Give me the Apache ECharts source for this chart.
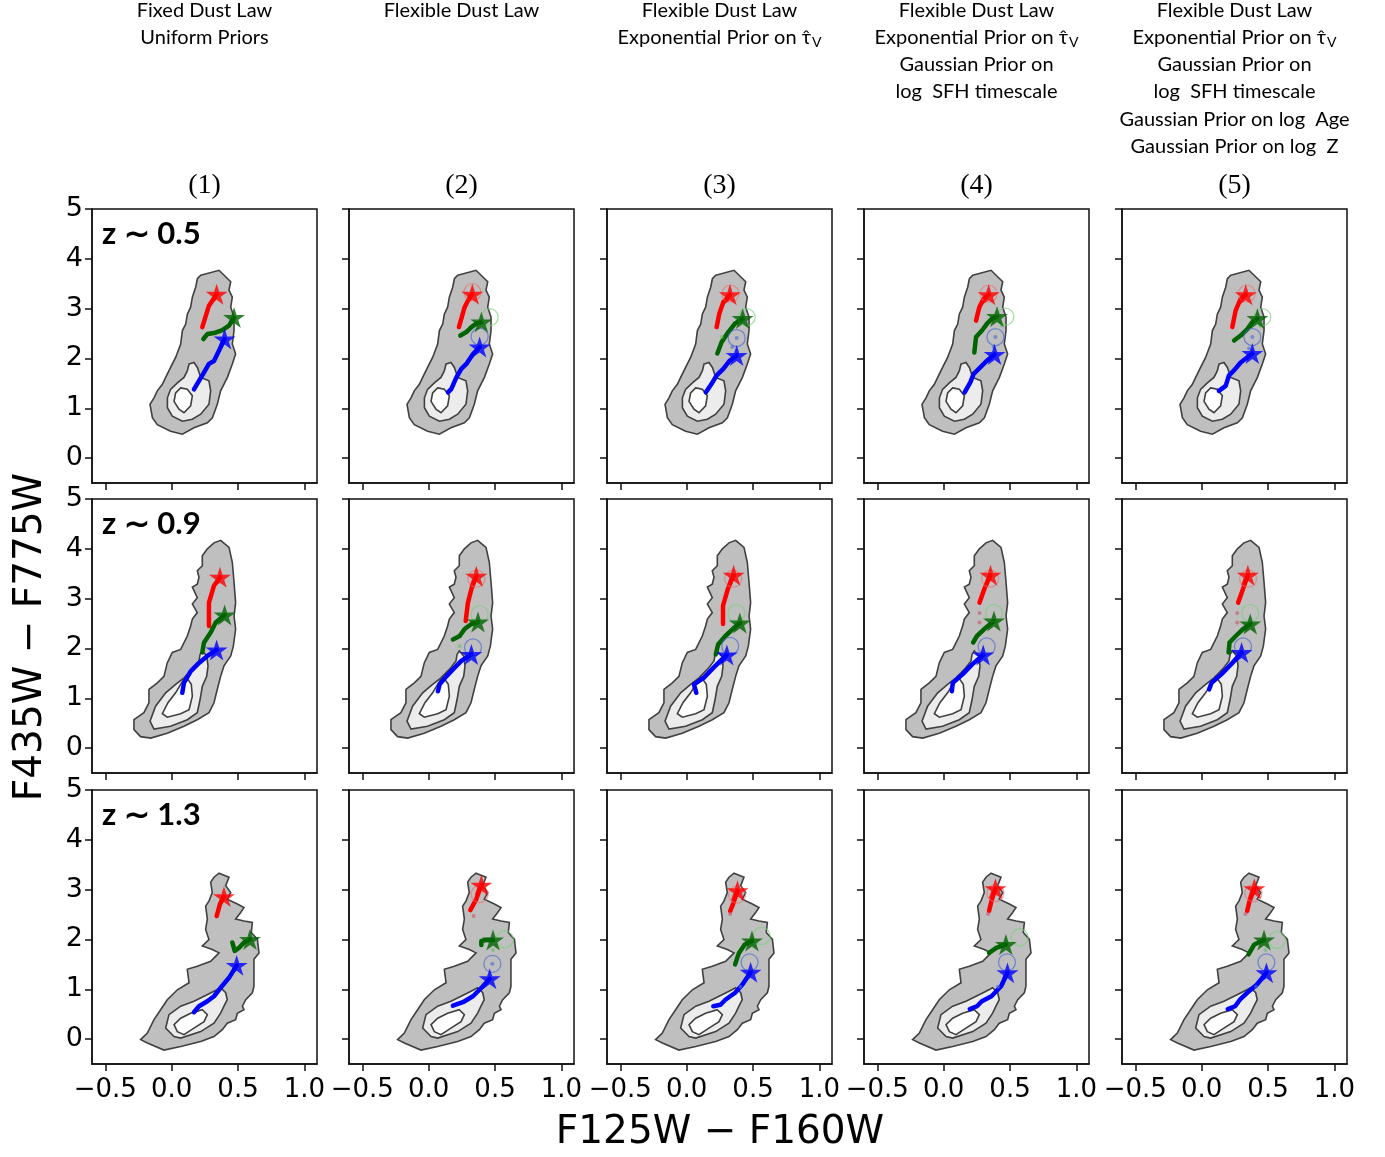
<!DOCTYPE html>
<html><head><meta charset="utf-8">
<script src="https://cdn.jsdelivr.net/npm/echarts@6/dist/echarts.min.js"></script>
<style>html,body{margin:0;padding:0;background:#fff}#c{width:1385px;height:1157px}</style>
</head><body><div id="c"></div>
<script>
// ---------- tick labels / text ----------
const xTicks = [-0.5, 0, 0.5, 1.0];
const yTicks = [0, 1, 2, 3, 4, 5];
const colTitles = [
  ['Fixed Dust Law', 'Uniform Priors'],
  ['Flexible Dust Law'],
  ['Flexible Dust Law', 'TAU'],
  ['Flexible Dust Law', 'TAU', 'Gaussian Prior on', 'log  SFH timescale'],
  ['Flexible Dust Law', 'TAU', 'Gaussian Prior on', 'log  SFH timescale', 'Gaussian Prior on log  Age', 'Gaussian Prior on log  Z']
];
const colNumbers = ['(1)', '(2)', '(3)', '(4)', '(5)'];
const rowLabels = ['z ∼ 0.5', 'z ∼ 0.9', 'z ∼ 1.3'];
const xName = 'F125W − F160W';
const yName = 'F435W − F775W';

// ---------- contours (observed distribution) ----------
const outer_z05 = [[0.219,3.67],[0.357,3.77],[0.445,3.54],[0.432,3.37],[0.457,3.23],[0.445,3.03],[0.470,2.83],[0.470,2.56],[0.457,2.29],[0.482,2.09],[0.457,1.89],[0.420,1.62],[0.369,1.35],[0.344,1.08],[0.307,0.81],[0.269,0.71],[0.168,0.61],[0.081,0.48],[-0.008,0.54],[-0.108,0.67],[-0.145,0.81],[-0.163,1.08],[-0.133,1.21],[-0.108,1.35],[-0.070,1.48],[-0.045,1.62],[-0.008,1.82],[0.030,2.02],[0.068,2.29],[0.081,2.56],[0.106,2.69],[0.118,2.89],[0.143,3.03],[0.156,3.23],[0.181,3.43],[0.194,3.60]];
const mid_z05 = [[0.131,1.89],[0.168,1.92],[0.194,1.82],[0.219,1.62],[0.281,1.55],[0.294,1.35],[0.281,1.08],[0.219,0.88],[0.156,0.78],[0.081,0.74],[0.005,0.84],[-0.032,1.01],[-0.032,1.21],[-0.008,1.38],[0.043,1.51],[0.093,1.62],[0.118,1.75]];
const inner_z05 = [[0.068,1.41],[0.118,1.38],[0.156,1.25],[0.143,1.05],[0.093,0.91],[0.055,0.98],[0.018,1.14],[0.030,1.31]];

const outer_z09 = [[0.369,4.17],[0.432,4.03],[0.457,3.73],[0.470,3.33],[0.482,2.92],[0.470,2.65],[0.482,2.39],[0.465,2.05],[0.445,1.85],[0.394,1.65],[0.369,1.44],[0.344,1.18],[0.319,0.91],[0.281,0.71],[0.193,0.57],[0.093,0.44],[-0.033,0.30],[-0.158,0.20],[-0.234,0.23],[-0.284,0.37],[-0.284,0.57],[-0.209,0.71],[-0.171,0.91],[-0.171,1.18],[-0.108,1.31],[-0.058,1.44],[-0.033,1.71],[0.005,1.92],[0.068,1.98],[0.118,2.25],[0.143,2.45],[0.156,2.59],[0.193,2.72],[0.156,2.89],[0.193,3.02],[0.156,3.23],[0.193,3.29],[0.206,3.43],[0.193,3.56],[0.231,3.66],[0.231,3.86],[0.269,4.00],[0.319,4.12]];
const mid_z09 = [[0.231,1.95],[0.264,1.85],[0.274,1.65],[0.264,1.44],[0.231,1.24],[0.214,0.97],[0.193,0.71],[0.118,0.57],[-0.008,0.44],[-0.133,0.38],[-0.163,0.54],[-0.121,0.84],[-0.045,1.11],[0.030,1.28],[0.093,1.41],[0.156,1.58],[0.206,1.75],[0.214,1.88]];
const inner_z09 = [[0.106,1.44],[0.148,1.28],[0.156,1.04],[0.131,0.77],[0.068,0.69],[-0.033,0.62],[-0.070,0.69],[-0.028,0.91],[0.030,1.11],[0.068,1.28]];

const outer_z13 = [[0.357,3.33],[0.432,3.25],[0.407,3.08],[0.445,2.94],[0.419,2.81],[0.495,2.71],[0.545,2.64],[0.520,2.54],[0.482,2.41],[0.545,2.37],[0.608,2.34],[0.600,2.14],[0.646,2.00],[0.658,1.73],[0.620,1.60],[0.620,1.40],[0.620,1.06],[0.608,0.93],[0.558,0.79],[0.533,0.66],[0.545,0.59],[0.495,0.52],[0.482,0.39],[0.419,0.32],[0.382,0.19],[0.319,0.05],[0.219,-0.05],[0.068,-0.15],[-0.058,-0.22],[-0.183,-0.08],[-0.234,-0.01],[-0.183,0.12],[-0.133,0.39],[-0.083,0.59],[-0.033,0.79],[0.043,0.99],[0.131,1.13],[0.118,1.40],[0.193,1.46],[0.294,1.56],[0.357,1.73],[0.306,1.80],[0.231,1.87],[0.281,2.00],[0.256,2.20],[0.269,2.41],[0.256,2.67],[0.281,2.77],[0.306,2.94],[0.294,3.15],[0.319,3.25]];
const mid_z13 = [[0.369,1.03],[0.407,0.93],[0.419,0.79],[0.394,0.66],[0.369,0.52],[0.319,0.32],[0.219,0.15],[0.068,0.02],[0.018,0.05],[-0.045,0.22],[-0.020,0.49],[0.068,0.66],[0.168,0.76],[0.244,0.86],[0.319,0.96]];
const inner_z13 = [[0.231,0.59],[0.269,0.49],[0.244,0.35],[0.168,0.22],[0.093,0.09],[0.043,0.15],[0.018,0.29],[0.068,0.42],[0.143,0.52]];

// ---------- model tracks (red, green, blue) per panel ----------
const red_z05_p1 = [[0.231,2.63],[0.281,3.06],[0.339,3.29]];
const green_z05_p1 = [[0.239,2.39],[0.269,2.49],[0.319,2.51],[0.382,2.57],[0.432,2.66],[0.470,2.82]];
const blue_z05_p1 = [[0.168,1.38],[0.206,1.55],[0.244,1.72],[0.281,1.89],[0.319,1.95],[0.357,2.16],[0.399,2.39]];
const red_z05_p2 = [[0.228,2.63],[0.271,3.03],[0.309,3.23],[0.329,3.29]];
const green_z05_p2 = [[0.239,2.46],[0.284,2.53],[0.322,2.63],[0.359,2.70],[0.397,2.73]];
const blue_z05_p2 = [[0.146,1.32],[0.171,1.39],[0.209,1.62],[0.246,1.79],[0.284,1.89],[0.334,2.09],[0.384,2.23]];
const red_z05_p3 = [[0.226,2.63],[0.246,2.90],[0.276,3.13],[0.326,3.28]];
const green_z05_p3 = [[0.231,2.10],[0.264,2.33],[0.314,2.53],[0.364,2.70],[0.422,2.80]];
const blue_z05_p3 = [[0.145,1.32],[0.188,1.49],[0.226,1.66],[0.276,1.79],[0.326,1.96],[0.377,2.06]];
const red_z05_p4 = [[0.244,2.76],[0.269,3.03],[0.301,3.20],[0.339,3.28]];
const green_z05_p4 = [[0.231,2.12],[0.244,2.43],[0.289,2.56],[0.327,2.70],[0.365,2.80],[0.402,2.84]];
const blue_z05_p4 = [[0.158,1.32],[0.201,1.52],[0.226,1.69],[0.276,1.82],[0.327,1.96],[0.384,2.08]];
const red_z05_p5 = [[0.231,2.63],[0.256,2.96],[0.294,3.20],[0.332,3.28]];
const green_z05_p5 = [[0.244,2.36],[0.294,2.46],[0.344,2.59],[0.382,2.73],[0.420,2.80]];
const blue_z05_p5 = [[0.130,1.35],[0.181,1.45],[0.206,1.66],[0.244,1.76],[0.294,1.92],[0.382,2.10]];

const red_z09_p1 = [[0.281,2.45],[0.281,2.92],[0.319,3.26],[0.364,3.43]];
const green_z09_p1 = [[0.231,1.92],[0.244,2.12],[0.294,2.32],[0.332,2.52],[0.399,2.67]];
const blue_z09_p1 = [[0.080,1.11],[0.093,1.31],[0.143,1.54],[0.206,1.71],[0.269,1.85],[0.339,1.97]];
const red_z09_p2 = [[0.279,2.55],[0.296,2.92],[0.322,3.19],[0.359,3.45]];
const green_z09_p2 = [[0.183,2.18],[0.234,2.25],[0.271,2.39],[0.322,2.49],[0.372,2.53]];
const blue_z09_p2 = [[0.070,1.14],[0.083,1.28],[0.133,1.44],[0.183,1.58],[0.246,1.75],[0.322,1.88]];
const red_z09_p3 = [[0.274,2.49],[0.274,2.86],[0.310,3.19],[0.354,3.47]];
const green_z09_p3 = [[0.219,1.88],[0.237,2.08],[0.292,2.25],[0.347,2.39],[0.401,2.51]];
const blue_z09_p3 = [[0.073,1.11],[0.055,1.28],[0.128,1.41],[0.201,1.61],[0.255,1.75],[0.303,1.87]];
const red_z09_p4 = [[0.270,2.92],[0.306,3.19],[0.353,3.47]];
const green_z09_p4 = [[0.222,2.12],[0.251,2.25],[0.306,2.39],[0.379,2.55]];
const blue_z09_p4 = [[0.062,1.14],[0.069,1.31],[0.142,1.48],[0.215,1.68],[0.298,1.87]];
const red_z09_p5 = [[0.275,2.92],[0.311,3.19],[0.348,3.47]];
const green_z09_p5 = [[0.203,1.92],[0.210,2.12],[0.257,2.25],[0.311,2.39],[0.366,2.49]];
const blue_z09_p5 = [[0.057,1.18],[0.075,1.31],[0.148,1.48],[0.221,1.68],[0.301,1.92]];

const red_z13_p1 = [[0.339,2.47],[0.364,2.71],[0.394,2.86]];
const green_z13_p1 = [[0.457,1.94],[0.475,1.77],[0.507,1.83],[0.545,1.94],[0.590,2.00]];
const blue_z13_p1 = [[0.168,0.54],[0.206,0.66],[0.269,0.76],[0.319,0.86],[0.369,1.03],[0.432,1.23],[0.490,1.48]];
const red_z13_p2 = [[0.314,2.59],[0.359,2.81],[0.397,3.09]];
const green_z13_p2 = [[0.397,1.89],[0.397,1.97],[0.435,1.99],[0.485,1.99]];
const blue_z13_p2 = [[0.183,0.67],[0.258,0.74],[0.334,0.86],[0.409,1.06],[0.460,1.21]];
const red_z13_p3 = [[0.328,2.57],[0.354,2.74],[0.383,2.98]];
const green_z13_p3 = [[0.365,1.50],[0.394,1.73],[0.438,1.90],[0.492,1.97]];
const blue_z13_p3 = [[0.201,0.66],[0.255,0.69],[0.292,0.79],[0.365,0.93],[0.419,1.09],[0.482,1.34]];
const red_z13_p4 = [[0.342,2.57],[0.360,2.77],[0.390,3.02]];
const green_z13_p4 = [[0.342,1.73],[0.397,1.83],[0.469,1.90]];
const blue_z13_p4 = [[0.197,0.60],[0.251,0.66],[0.288,0.76],[0.360,0.86],[0.433,1.06],[0.481,1.33]];
const red_z13_p5 = [[0.343,2.57],[0.361,2.77],[0.397,3.02]];
const green_z13_p5 = [[0.353,1.70],[0.397,1.90],[0.470,1.99]];
const blue_z13_p5 = [[0.197,0.60],[0.252,0.66],[0.288,0.79],[0.343,0.93],[0.415,1.09],[0.488,1.33]];

// ---------- open circles (red, green, blue) ----------
const circ_z05_p2 = [[0.330,3.33],[0.460,2.83],[0.384,2.44]];
const circ_z05_p3 = [[0.330,3.30],[0.452,2.83],[0.377,2.41]];
const circ_z05_p4 = [[0.339,3.30],[0.465,2.84],[0.390,2.43]];
const circ_z05_p5 = [[0.340,3.30],[0.457,2.83],[0.382,2.43]];
const circ_z09_p2 = [[0.360,3.40],[0.384,2.69],[0.334,2.02]];
const circ_z09_p3 = [[0.350,3.40],[0.375,2.71],[0.328,2.05]];
const circ_z09_p4 = [[0.350,3.40],[0.379,2.71],[0.324,2.04]];
const circ_z09_p5 = [[0.350,3.40],[0.366,2.71],[0.311,2.04]];
const circ_z13_p2 = [[0.384,2.91],[0.573,2.00],[0.480,1.51]];
const circ_z13_p3 = [[0.380,2.90],[0.565,2.07],[0.474,1.54]];
const circ_z13_p4 = [[0.390,2.93],[0.572,2.04],[0.477,1.54]];
const circ_z13_p5 = [[0.390,2.93],[0.568,1.99],[0.488,1.54]];

// ---------- small faint dots (colour index 0 red,1 green,2 blue) ----------
const dots_z05_p3 = [[0.264,2.43,1],[0.344,2.23,2],[0.377,2.41,2]];
const dots_z05_p4 = [[0.440,2.66,1],[0.377,2.23,2],[0.390,2.43,2]];
const dots_z05_p5 = [[0.440,2.66,1],[0.357,2.20,2],[0.382,2.43,2]];
const dots_z09_p2 = [[0.234,2.05,1]];
const dots_z09_p4 = [[0.270,2.71,0],[0.270,2.52,0]];
const dots_z09_p5 = [[0.268,2.71,0],[0.268,2.52,0]];
const dots_z13_p2 = [[0.339,2.47,0],[0.485,1.79,1],[0.480,1.51,2]];
const dots_z13_p3 = [[0.328,2.51,0],[0.405,1.05,2]];
const dots_z13_p4 = [[0.334,2.51,0],[0.410,1.05,2]];
const dots_z13_p5 = [[0.330,2.51,0],[0.481,1.79,1],[0.410,1.05,2]];

// ---------- assemble ----------
const rows = [
  {outer: outer_z05, mid: mid_z05, inner: inner_z05,
   tracks: [[red_z05_p1,green_z05_p1,blue_z05_p1],[red_z05_p2,green_z05_p2,blue_z05_p2],[red_z05_p3,green_z05_p3,blue_z05_p3],[red_z05_p4,green_z05_p4,blue_z05_p4],[red_z05_p5,green_z05_p5,blue_z05_p5]],
   circ: [null, circ_z05_p2, circ_z05_p3, circ_z05_p4, circ_z05_p5],
   dots: [null, null, dots_z05_p3, dots_z05_p4, dots_z05_p5]},
  {outer: outer_z09, mid: mid_z09, inner: inner_z09,
   tracks: [[red_z09_p1,green_z09_p1,blue_z09_p1],[red_z09_p2,green_z09_p2,blue_z09_p2],[red_z09_p3,green_z09_p3,blue_z09_p3],[red_z09_p4,green_z09_p4,blue_z09_p4],[red_z09_p5,green_z09_p5,blue_z09_p5]],
   circ: [null, circ_z09_p2, circ_z09_p3, circ_z09_p4, circ_z09_p5],
   dots: [null, dots_z09_p2, null, dots_z09_p4, dots_z09_p5]},
  {outer: outer_z13, mid: mid_z13, inner: inner_z13,
   tracks: [[red_z13_p1,green_z13_p1,blue_z13_p1],[red_z13_p2,green_z13_p2,blue_z13_p2],[red_z13_p3,green_z13_p3,blue_z13_p3],[red_z13_p4,green_z13_p4,blue_z13_p4],[red_z13_p5,green_z13_p5,blue_z13_p5]],
   circ: [null, circ_z13_p2, circ_z13_p3, circ_z13_p4, circ_z13_p5],
   dots: [null, dots_z13_p2, dots_z13_p3, dots_z13_p4, dots_z13_p5]}
];

const colLeft = [92, 349, 607, 864, 1122];
const rowTop = [209, 499, 790];
const PW = 225, PH = 274;
const lineColors = ['#ff0000', '#006400', '#0000ff'];
const circColors = ['rgba(235,110,110,0.75)', 'rgba(120,210,120,0.85)', 'rgba(70,100,210,0.8)'];
const dotColors = ['rgba(200,90,110,0.8)', 'rgba(110,190,110,0.8)', 'rgba(80,110,210,0.8)'];
const starPath = 'path://M50,0 L61.2,34.5 L97.6,34.5 L68.2,55.9 L79.4,90.5 L50,69.1 L20.6,90.5 L31.8,55.9 L2.4,34.5 L38.8,34.5 Z';
const fmt = v => (v < 0 ? '−' + Math.abs(v).toFixed(1) : v.toFixed(1));

const grids = [], xAxes = [], yAxes = [], series = [];
rows.forEach((row, r) => {
  for (let c = 0; c < 5; c++) {
    const i = r * 5 + c;
    grids.push({left: colLeft[c], top: rowTop[r], width: PW, height: PH, show: true,
      borderColor: '#111', borderWidth: 1.5, backgroundColor: '#fff'});
    xAxes.push({gridIndex: i, type: 'value', min: -0.6, max: 1.095,
      axisLine: {show: true, onZero: false, lineStyle: {color: '#111', width: 1.5}},
      axisTick: {show: true, length: 7, customValues: xTicks, lineStyle: {color: '#111', width: 1.5}},
      axisLabel: {show: r === 2, customValues: xTicks, formatter: fmt, fontSize: 26, color: '#000',
        fontFamily: 'DejaVu Sans', margin: 13},
      splitLine: {show: false}});
    yAxes.push({gridIndex: i, type: 'value', min: -0.5, max: 5,
      axisLine: {show: true, onZero: false, lineStyle: {color: '#111', width: 1.5}},
      axisTick: {show: true, length: 7, customValues: yTicks, lineStyle: {color: '#111', width: 1.5}},
      axisLabel: {show: c === 0, customValues: yTicks, formatter: v => String(Math.round(v)), fontSize: 27,
        color: '#000', fontFamily: 'DejaVu Sans', margin: 9},
      splitLine: {show: false}});
    const polys = [
      {pts: row.outer, fill: '#bfbfbf'},
      {pts: row.mid, fill: '#ececec'},
      {pts: row.inner, fill: '#ffffff'}
    ];
    series.push({type: 'custom', xAxisIndex: i, yAxisIndex: i, z: 1, silent: true, data: [[0, 0]],
      renderItem: (params, api) => ({type: 'group', children: polys.map(p => ({type: 'polygon',
        shape: {points: p.pts.map(q => api.coord(q))},
        style: {fill: p.fill, stroke: '#404040', lineWidth: 1.6}}))})});
    const trk = row.tracks[c];
    trk.forEach((t, k) => {
      series.push({type: 'line', xAxisIndex: i, yAxisIndex: i, z: 3, data: t, showSymbol: false, symbol: 'none',
        silent: true, lineStyle: {color: lineColors[k], width: 4.5, cap: 'round', join: 'round'}});
    });
    if (row.dots[c]) {
      series.push({type: 'scatter', xAxisIndex: i, yAxisIndex: i, z: 4, silent: true, symbolSize: 4,
        data: row.dots[c].map(d => ({value: [d[0], d[1]], itemStyle: {color: dotColors[d[2]]}}))});
    }
    if (row.circ[c]) {
      series.push({type: 'scatter', xAxisIndex: i, yAxisIndex: i, z: 4, silent: true, symbol: 'circle', symbolSize: 17,
        data: row.circ[c].map((p, k) => ({value: p, itemStyle: {color: 'rgba(0,0,0,0)', borderColor: circColors[k], borderWidth: 1.3}}))});
    }
    series.push({type: 'scatter', xAxisIndex: i, yAxisIndex: i, z: 5, silent: true, symbol: starPath,
      symbolSize: 22, symbolKeepAspect: true,
      data: trk.map((t, k) => ({value: t[t.length - 1], itemStyle: {color: lineColors[k]}}))});
  }
});

// ---------- text ----------
const graphic = [];
const titleLineY = [11, 38, 65, 92, 120, 147];
colTitles.forEach((lines, c) => {
  const cx = colLeft[c] + PW / 2;
  lines.forEach((ln, j) => {
    const txt = ln === 'TAU' ? '{n|Exponential Prior on τ̂}{s|V}' : '{n|' + ln + '}';
    graphic.push({type: 'text', x: cx, y: titleLineY[j], silent: true,
      style: {text: txt, textAlign: 'center', textVerticalAlign: 'middle', fill: '#000',
        rich: {n: {fontSize: 20, fontFamily: 'Lato', fill: '#000'},
               s: {fontSize: 14, fontFamily: 'Lato', fill: '#000', padding: [9, 0, 0, 1]}}}});
  });
  graphic.push({type: 'text', x: cx, y: 186, silent: true,
    style: {text: colNumbers[c], textAlign: 'center', textVerticalAlign: 'middle', fill: '#000',
      fontSize: 28, fontFamily: 'Liberation Serif'}});
});
rowLabels.forEach((t, r) => {
  graphic.push({type: 'text', x: colLeft[0] + 10, y: rowTop[r] + 25, silent: true,
    style: {text: t, textAlign: 'left', textVerticalAlign: 'middle', fill: '#000',
      fontSize: 31, fontWeight: 'bold', fontFamily: 'Lato'}});
});
graphic.push({type: 'text', x: 720, y: 1133, silent: true,
  style: {text: xName, textAlign: 'center', textVerticalAlign: 'middle', fill: '#000', fontSize: 39, fontFamily: 'DejaVu Sans'}});
graphic.push({type: 'text', x: 31, y: 637, rotation: Math.PI / 2, silent: true,
  style: {text: yName, textAlign: 'center', textVerticalAlign: 'middle', fill: '#000', fontSize: 39, fontFamily: 'DejaVu Sans'}});

const chart = echarts.init(document.getElementById('c'));
chart.setOption({animation: false, backgroundColor: '#fff', grid: grids, xAxis: xAxes, yAxis: yAxes, series: series, graphic: graphic});
</script>
</body></html>
